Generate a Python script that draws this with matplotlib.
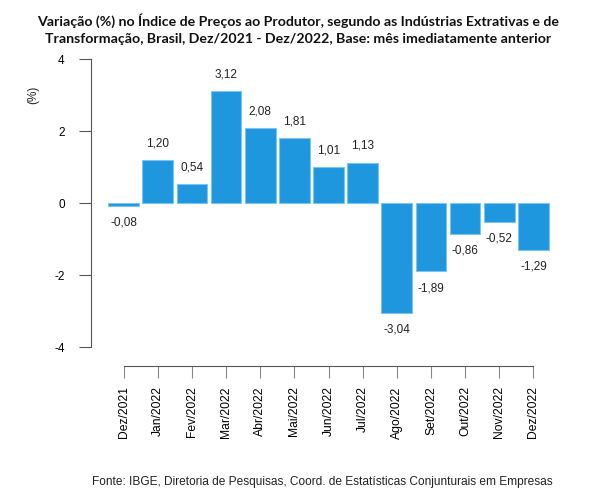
import matplotlib.pyplot as plt

meses = ["Dez/2021", "Jan/2022", "Fev/2022", "Mar/2022", "Abr/2022", "Mai/2022",
         "Jun/2022", "Jul/2022", "Ago/2022", "Set/2022", "Out/2022", "Nov/2022",
         "Dez/2022"]
variacao = [-0.08, 1.20, 0.54, 3.12, 2.08, 1.81, 1.01, 1.13, -3.04, -1.89, -0.86,
            -0.52, -1.29]
y_ticks = [-4, -2, 0, 2, 4]

plt.rcParams["font.family"] = ["Liberation Sans", "DejaVu Sans"]
plt.rcParams["axes.unicode_minus"] = False

fig = plt.figure(figsize=(6.04, 4.95), dpi=100)
ax = fig.add_axes([0.150, 0.2606, 0.767, 0.634])

x = list(range(len(meses)))
ax.bar(x, variacao, width=0.9, color="#1f97df", edgecolor="#7cc4ef", linewidth=0.8)

for xi, v in zip(x, variacao):
    txt = f"{v:.2f}".replace(".", ",")
    off = 12 if v >= 0 else -12
    ax.annotate(txt, (xi, v), xytext=(0, off), textcoords="offset points",
                ha="center", va="center", fontsize=8.5, color="#222222")

ax.set_xlim(-0.97, 12.6)
ax.set_ylim(-4.52, 4.2)
ax.set_yticks(y_ticks)
ax.set_yticklabels([str(t) for t in y_ticks])
ax.set_xticks(x)
ax.set_xticklabels(meses, rotation=90)

for s in ["top", "right"]:
    ax.spines[s].set_visible(False)
ax.spines["left"].set_bounds(-4, 4)
ax.spines["bottom"].set_bounds(0, 12)
for s in ["left", "bottom"]:
    ax.spines[s].set_color("#555555")
    ax.spines[s].set_linewidth(0.8)
ax.tick_params(axis="y", length=8.6, width=0.8, color="#555555", pad=10, labelsize=8.5)
ax.tick_params(axis="x", length=8.6, width=0.8, color="#888888", pad=6, labelsize=8.7)

fig.text(33 / 604, 1 - 95 / 495, "(%)", rotation=90, ha="center", va="center",
         fontsize=8.5, color="#222222")

fig.text(298 / 604, 1 - 29 / 495,
         "Variação (%) no Índice de Preços ao Produtor, segundo as Indústrias Extrativas e de\n"
         "Transformação, Brasil, Dez/2021 - Dez/2022, Base: mês imediatamente anterior",
         ha="center", va="center", fontsize=10.2, fontweight="bold", family="Lato",
         linespacing=1.55, color="#111111")

fig.text(92 / 604, 1 - 482 / 495,
         "Fonte: IBGE, Diretoria de Pesquisas, Coord. de Estatísticas Conjunturais em Empresas",
         ha="left", va="center", fontsize=8.55, color="#222222")

fig.savefig("out.png", dpi=100)
